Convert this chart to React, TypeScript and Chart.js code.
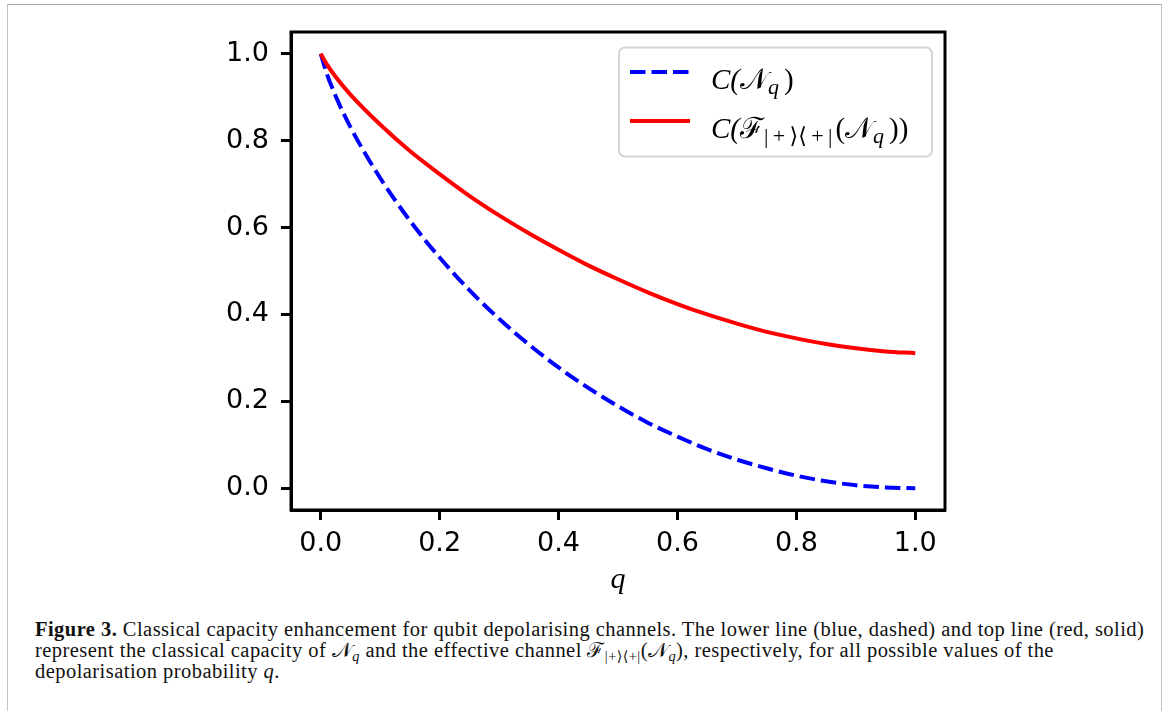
import React, { useEffect, useRef } from "react";
import { Chart, registerables } from "chart.js";

Chart.register(...registerables);

// depolarisation probability q
const qValues = [0, 0.01, 0.025, 0.05, 0.1, 0.15, 0.2, 0.25, 0.3, 0.35, 0.4, 0.45, 0.5, 0.55, 0.6, 0.65, 0.7, 0.75, 0.8, 0.85, 0.9, 0.95, 1.0];
// C(N_q) — blue dashed
const capacityChannel = [1.0, 0.955, 0.903, 0.831, 0.714, 0.616, 0.531, 0.456, 0.39, 0.331, 0.278, 0.231, 0.189, 0.151, 0.119, 0.09, 0.066, 0.046, 0.029, 0.016, 0.007, 0.002, 0.0];
// C(F_{|+><+|}(N_q)) — red solid
const capacityEffective = [1.0, 0.976, 0.947, 0.906, 0.837, 0.776, 0.723, 0.673, 0.628, 0.587, 0.549, 0.513, 0.481, 0.451, 0.424, 0.4, 0.379, 0.36, 0.345, 0.332, 0.322, 0.315, 0.311];

const xTicks = [0, 0.2, 0.4, 0.6, 0.8, 1.0];
const yTicks = [0, 0.2, 0.4, 0.6, 0.8, 1.0];

const xRange = [-0.05, 1.05];
const yRange = [-0.05, 1.05];

const seriesColors = ["#0000ff", "#ff0000"];

const TS = "\u2009";
const legendEntries = [
  [
    { t: "C(", style: "italic" },
    { t: "𝒩", style: "normal" },
    { t: "q", style: "italic", sub: true },
    { t: ")", style: "normal", gap: 4 },
  ],
  [
    { t: "C(", style: "italic" },
    { t: "ℱ", style: "normal" },
    { t: `|${TS}+${TS}⟩⟨${TS}+${TS}|`, style: "normal", sub: true },
    { t: "(", style: "normal", gap: 2 },
    { t: "𝒩", style: "normal" },
    { t: "q", style: "italic", sub: true },
    { t: "))", style: "normal", gap: 4 },
  ],
];

const MATH_FONT = "'Liberation Serif', 'DejaVu Serif', serif";

const framePlugin = {
  id: "frameAndLegend",
  afterDraw(chart: any) {
    const { ctx, chartArea } = chart;
    const { left, top, right, bottom } = chartArea;
    ctx.save();
    // frame
    ctx.strokeStyle = "#000";
    ctx.lineWidth = 3;
    ctx.strokeRect(left, top, right - left, bottom - top);

    // legend box
    const bx = 619, by = 47.5, bw = 313, bh = 109;
    ctx.beginPath();
    (ctx as any).roundRect(bx, by, bw, bh, 6);
    ctx.fillStyle = "rgba(255,255,255,0.8)";
    ctx.fill();
    ctx.strokeStyle = "#d4d4d4";
    ctx.lineWidth = 2;
    ctx.stroke();

    const rows = [72, 121];
    legendEntries.forEach((parts, i) => {
      const y = rows[i];
      ctx.beginPath();
      ctx.strokeStyle = seriesColors[i];
      ctx.lineWidth = 4;
      ctx.setLineDash(i === 0 ? [15.5, 6] : []);
      ctx.moveTo(630, y);
      ctx.lineTo(690, y);
      ctx.stroke();
      ctx.setLineDash([]);

      let x = 711;
      const base = y + 17;
      ctx.fillStyle = "#000";
      ctx.textBaseline = "alphabetic";
      ctx.textAlign = "left";
      parts.forEach((p: any) => {
        const size = p.sub ? 22 : 29;
        x += p.gap || 0;
        ctx.font = `${p.style} ${size}px ${MATH_FONT}`;
        ctx.fillText(p.t, x, p.sub ? base + 5 : base);
        x += ctx.measureText(p.t).width + (p.sub ? 1 : 0);
      });
    });
    ctx.restore();
  },
};

export default function App() {
  const canvasRef = useRef<HTMLCanvasElement | null>(null);

  useEffect(() => {
    if (!canvasRef.current) return;
    const tickFont = { family: "'DejaVu Sans', sans-serif", size: 27 };
    const chart = new Chart(canvasRef.current, {
      type: "line",
      data: {
        datasets: [
          {
            label: "C(N_q)",
            data: qValues.map((q, i) => ({ x: q, y: capacityChannel[i] })),
            borderColor: seriesColors[0],
            borderWidth: 4,
            borderDash: [15.5, 6],
            pointRadius: 0,
            fill: false,
            cubicInterpolationMode: "monotone",
            order: 1,
          },
          {
            label: "C(F(N_q))",
            data: qValues.map((q, i) => ({ x: q, y: capacityEffective[i] })),
            borderColor: seriesColors[1],
            borderWidth: 4,
            pointRadius: 0,
            fill: false,
            cubicInterpolationMode: "monotone",
            order: 0,
          },
        ],
      },
      options: {
        animation: false,
        responsive: false,
        maintainAspectRatio: false,
        layout: { padding: { left: 0, top: 32, right: 222, bottom: 0 } },
        plugins: { legend: { display: false }, tooltip: { enabled: false } },
        scales: {
          x: {
            type: "linear",
            min: xRange[0],
            max: xRange[1],
            afterBuildTicks: (s: any) => {
              s.ticks = xTicks.map((v) => ({ value: v }));
            },
            afterFit: (s: any) => {
              s.height = 90;
            },
            ticks: {
              callback: (v: any) => Number(v).toFixed(1),
              font: tickFont,
              color: "#000",
              padding: 8,
              maxRotation: 0,
              autoSkip: false,
            },
            grid: { display: true, drawOnChartArea: false, drawTicks: true, tickLength: 10, tickWidth: 3, color: "#000" },
            border: { display: true, color: "#000", width: 3 },
            title: {
              display: true,
              text: "q",
              color: "#000",
              font: { family: MATH_FONT, style: "italic", size: 30 },
              padding: { top: 0, bottom: 2 },
            },
          },
          y: {
            type: "linear",
            min: yRange[0],
            max: yRange[1],
            afterBuildTicks: (s: any) => {
              s.ticks = yTicks.map((v) => ({ value: v }));
            },
            afterFit: (s: any) => {
              s.width = 291;
            },
            ticks: {
              callback: (v: any) => Number(v).toFixed(1),
              font: tickFont,
              color: "#000",
              padding: 12,
              autoSkip: false,
            },
            grid: { display: true, drawOnChartArea: false, drawTicks: true, tickLength: 10, tickWidth: 3, color: "#000" },
            border: { display: true, color: "#000", width: 3 },
          },
        },
      },
      plugins: [framePlugin],
    } as any);
    return () => chart.destroy();
  }, []);

  const capStyle: React.CSSProperties = {
    position: "absolute",
    left: 35,
    top: 619,
    fontFamily: "'Liberation Serif', 'DejaVu Serif', serif",
    fontSize: 20.5,
    letterSpacing: "0.45px",
    lineHeight: "21px",
    color: "#111",
    whiteSpace: "nowrap",
  };
  const sub: React.CSSProperties = { fontSize: "0.7em", verticalAlign: "-0.3em", lineHeight: 0 };

  return (
    <div style={{ position: "absolute", left: 0, top: 0, width: 1167, height: 711, background: "#fff", overflow: "hidden" }}>
      <div
        style={{
          position: "absolute",
          left: 7,
          top: 4,
          width: 1155,
          height: 720,
          border: "1px solid #c4c4c4",
          borderTopColor: "#a8a8a8",
          boxSizing: "border-box",
        }}
      />
      <canvas ref={canvasRef} width={1167} height={600} style={{ position: "absolute", left: 0, top: 0, width: 1167, height: 600 }} />
      <div style={capStyle}>
        <b>Figure 3.</b> Classical capacity enhancement for qubit depolarising channels. The lower line (blue, dashed) and top line (red, solid)
        <br />
        represent the classical capacity of 𝒩<span style={sub}><i>q</i></span> and the effective channel ℱ
        <span style={sub}>|+⟩⟨+|</span>(𝒩<span style={sub}><i>q</i></span>), respectively, for all possible values of the
        <br />
        depolarisation probability <i>q</i>.
      </div>
    </div>
  );
}
